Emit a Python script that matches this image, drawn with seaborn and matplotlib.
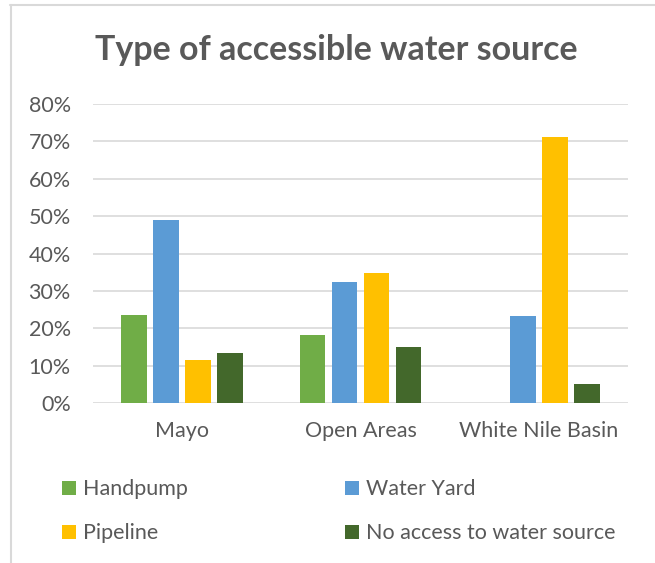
import numpy as np
import pandas as pd
import seaborn as sns
import matplotlib.pyplot as plt
from matplotlib.lines import Line2D
from matplotlib.ticker import PercentFormatter

# Data
areas = ['Mayo', 'Open Areas', 'White Nile Basin']
sources = ['Handpump', 'Water Yard', 'Pipeline', 'No access to water source']
handpump = [0.235, 0.183, 0.0]
water_yard = [0.490, 0.325, 0.232]
pipeline = [0.116, 0.347, 0.712]
no_access = [0.134, 0.151, 0.051]
colors = ['#70AD47', '#5B9BD5', '#FFC000', '#43682B']

rows = []
for name, vals in zip(sources, [handpump, water_yard, pipeline, no_access]):
    for area, v in zip(areas, vals):
        rows.append({'area': area, 'source': name, 'value': v})
df = pd.DataFrame(rows)

sns.set_style('white')
plt.rcParams['font.family'] = ['Lato', 'DejaVu Sans']
text_col = '#595959'
grid_col = '#D9D9D9'
fs = 15.5

W, H = 655, 563
fig = plt.figure(figsize=(W / 100, H / 100), dpi=100)

# axes placed in pixel terms
left, right, bottom, top = 93, 628, 403, 104
ax = fig.add_axes([left / W, (H - bottom) / H, (right - left) / W, (bottom - top) / H])

sns.barplot(data=df, x='area', y='value', hue='source', order=areas,
            hue_order=sources, palette=colors, saturation=1, width=0.718,
            gap=0.19, linewidth=0, ax=ax, legend=False)

ax.set_ylim(0, 0.8)
ax.set_xlim(-0.5, 2.5)
ax.set_yticks(np.arange(0, 0.81, 0.1))
ax.yaxis.set_major_formatter(PercentFormatter(1.0, decimals=0))
ax.grid(axis='y', color=grid_col, linewidth=1.2)
ax.set_axisbelow(True)
for s in ax.spines.values():
    s.set_visible(False)
ax.tick_params(axis='both', length=0, labelsize=fs, labelcolor=text_col)
ax.tick_params(axis='y', pad=16)
ax.tick_params(axis='x', pad=13)
ax.set_xlabel('')
ax.set_ylabel('')

# title
fig.text(336 / W, 1 - 50 / H, 'Type of accessible water source', ha='center',
         va='center', fontsize=24.5, fontweight='bold', color=text_col)

# legend, filled row by row like the reference
handles = [Line2D([], [], marker='s', linestyle='', markersize=10,
                  markerfacecolor=c, markeredgewidth=0) for c in colors]
order = [0, 2, 1, 3]
fig.legend([handles[i] for i in order], [sources[i] for i in order], ncol=2,
           loc='upper left', bbox_to_anchor=(42 / W, 1 - 460 / H),
           frameon=False, fontsize=fs, labelcolor=text_col, handlelength=0.7,
           handletextpad=0.3, columnspacing=7.3, labelspacing=1.1)

# outer chart frame
fig.add_artist(Line2D([10 / W, 1], [1 - 5 / H, 1 - 5 / H], color=grid_col,
                      linewidth=1.5, transform=fig.transFigure))
fig.add_artist(Line2D([11 / W, 11 / W], [0, 1 - 5 / H], color=grid_col,
                      linewidth=1.5, transform=fig.transFigure))

fig.savefig('out.png', dpi=100, facecolor='white')
